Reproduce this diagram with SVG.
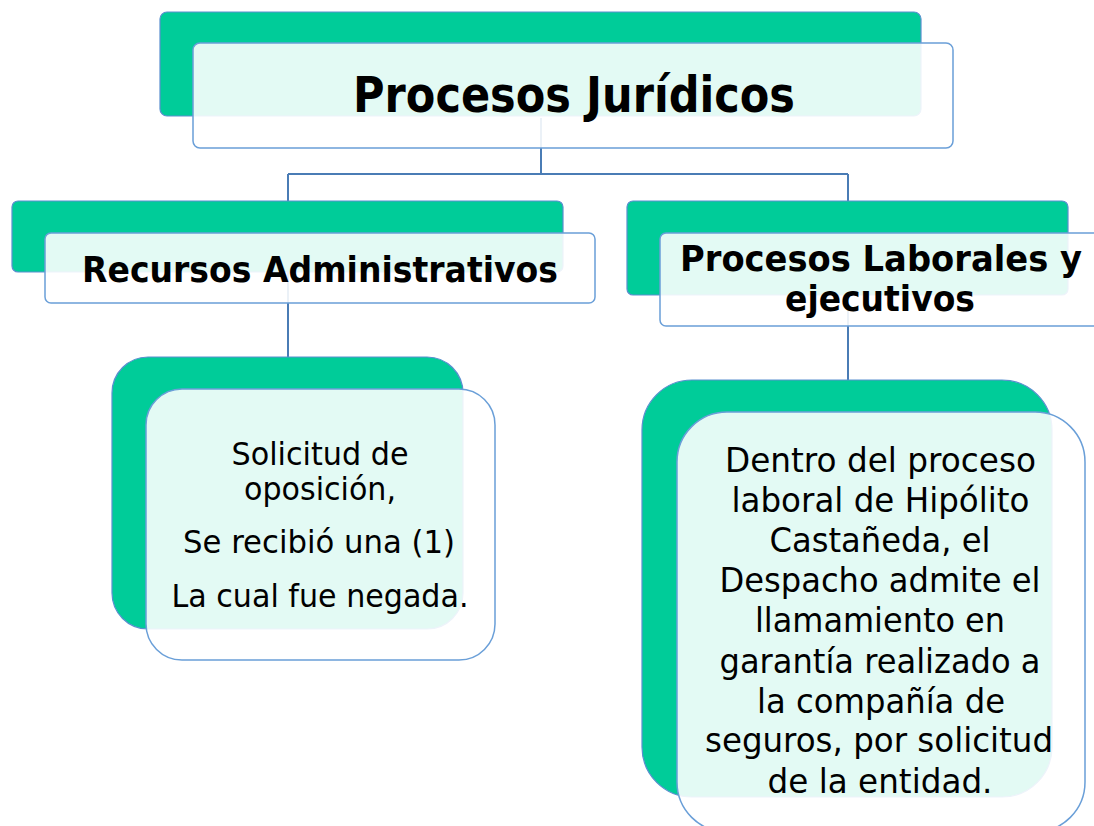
<svg xmlns="http://www.w3.org/2000/svg" width="1094" height="826" viewBox="0 0 1094 826">
<style>
.back{fill:#00cc99;stroke:#5a8fcf;stroke-width:1.2}
.front{fill:#ffffff;fill-opacity:0.89;stroke:#6a9fd8;stroke-width:1.5}
.conn{fill:none;stroke:#4a7cb5;stroke-width:2}
.h{font-family:"DejaVu Sans",Verdana,sans-serif;font-weight:bold;fill:#000;text-anchor:middle}
.b{font-family:"DejaVu Sans",Verdana,sans-serif;fill:#000;text-anchor:middle}
</style>
<rect width="1094" height="826" fill="#ffffff"/>
<g id="connectors">
<path class="conn" d="M541 118V174M288 174H848M288 174V357M848 174V381"/>
</g>
<g id="node-root">
<rect class="back" x="160" y="12" width="761" height="104" rx="7"/>
<rect class="front" x="193" y="43" width="760" height="105" rx="7"/>
<text class="h" x="574" y="112" font-size="49" textLength="442" lengthAdjust="spacingAndGlyphs">Procesos Jurídicos</text>
</g>
<g id="node-recursos">
<rect class="back" x="12" y="201" width="551" height="71" rx="6"/>
<rect class="front" x="45" y="233" width="550" height="70" rx="6"/>
<text class="h" x="320" y="282" font-size="36" textLength="476" lengthAdjust="spacingAndGlyphs">Recursos Administrativos</text>
</g>
<g id="node-laborales">
<rect class="back" x="627" y="201" width="441" height="94" rx="6"/>
<rect class="front" x="660" y="233" width="450" height="93" rx="6"/>
<text class="h" x="881" y="271" font-size="36" textLength="402" lengthAdjust="spacingAndGlyphs">Procesos Laborales  y</text>
<text class="h" x="880" y="311" font-size="36" textLength="190" lengthAdjust="spacingAndGlyphs">ejecutivos</text>
</g>
<g id="node-solicitud">
<rect class="back" x="112" y="357" width="351" height="272" rx="36"/>
<rect class="front" x="146" y="389" width="349" height="271" rx="36"/>
<g class="b" font-size="32" lengthAdjust="spacingAndGlyphs">
<text x="320" y="465" textLength="177" lengthAdjust="spacingAndGlyphs">Solicitud de</text>
<text x="320" y="500" textLength="152" lengthAdjust="spacingAndGlyphs">oposición,</text>
<text x="319" y="553" textLength="272" lengthAdjust="spacingAndGlyphs">Se recibió una (1)</text>
<text x="320" y="607" textLength="297" lengthAdjust="spacingAndGlyphs">La cual fue negada.</text>
</g>
</g>
<g id="node-dentro">
<rect class="back" x="642" y="380" width="410" height="417" rx="50"/>
<rect class="front" x="677" y="412" width="408" height="420" rx="50"/>
<g class="b" font-size="33">
<text x="880.5" y="472" textLength="311" lengthAdjust="spacingAndGlyphs">Dentro del proceso</text>
<text x="880.5" y="512" textLength="298" lengthAdjust="spacingAndGlyphs">laboral de Hipólito</text>
<text x="880" y="552" textLength="221" lengthAdjust="spacingAndGlyphs">Castañeda, el</text>
<text x="880" y="592" textLength="321" lengthAdjust="spacingAndGlyphs">Despacho admite el</text>
<text x="880" y="632" textLength="250" lengthAdjust="spacingAndGlyphs">llamamiento en</text>
<text x="880" y="673" textLength="321" lengthAdjust="spacingAndGlyphs">garantía realizado a</text>
<text x="881" y="713" textLength="248" lengthAdjust="spacingAndGlyphs">la compañía de</text>
<text x="879" y="752" textLength="348" lengthAdjust="spacingAndGlyphs">seguros, por solicitud</text>
<text x="880" y="793" textLength="225" lengthAdjust="spacingAndGlyphs">de la entidad.</text>
</g>
</g>
</svg>
